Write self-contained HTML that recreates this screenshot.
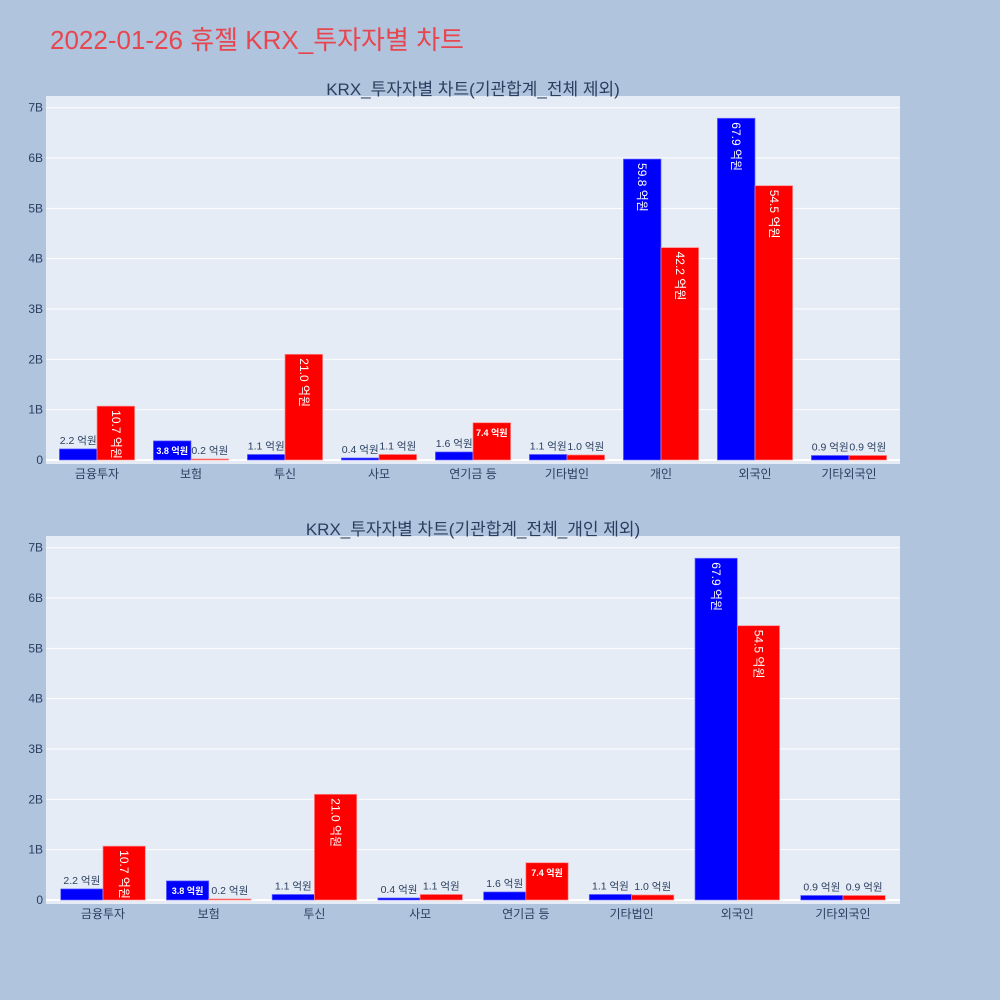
<!DOCTYPE html>
<html><head><meta charset="utf-8"><style>
html,body{margin:0;padding:0;background:#b0c4de;}
svg{display:block;font-family:"Liberation Sans","Noto Sans CJK KR",sans-serif;}
</style></head><body>
<svg id="c" width="1000" height="1000" xmlns="http://www.w3.org/2000/svg">
<rect width="1000" height="1000" fill="#b0c4de"/>
<text x="50" y="49" font-size="26" fill="#e8464f">2022-01-26 휴젤 KRX_투자자별 차트</text>
</svg>
<script>
const cats1 = ["금융투자","보험","투신","사모","연기금 등","기타법인","개인","외국인","기타외국인"];
const blue1 = [2.2,3.8,1.1,0.4,1.6,1.1,59.8,67.9,0.9];
const red1 = [10.7,0.2,21.0,1.1,7.4,1.0,42.2,54.5,0.9];
const cats2 = ["금융투자","보험","투신","사모","연기금 등","기타법인","외국인","기타외국인"];
const blue2 = [2.2,3.8,1.1,0.4,1.6,1.1,67.9,0.9];
const red2 = [10.7,0.2,21.0,1.1,7.4,1.0,54.5,0.9];
const yTicks = [0,1,2,3,4,5,6,7];
const yTickLabels = ["0","1B","2B","3B","4B","5B","6B","7B"];

const svg = document.getElementById('c');
const NS = "http://www.w3.org/2000/svg";
function mk(tag, attrs, parent){
  const e = document.createElementNS(NS, tag);
  for (const k in attrs) e.setAttribute(k, attrs[k]);
  (parent||svg).appendChild(e);
  return e;
}
function panel(opts, cats, blue, red, name){
  const g = mk('g', {});
  
  
  const {top, bottom, left, right, c0, cN, title, titleY, zeroY, sevenY} = opts;
  const bg = mk('rect', {x:left, y:top, width:right-left, height:bottom-top, fill:'#e5ecf6'}, g);
  
  
  const yScale = v => zeroY - (v/7)*(zeroY - sevenY); // v in B
  const step = (cN - c0)/(cats.length-1);
  const xScale = i => c0 + i*step;
  const bw = step*0.4;
  yTicks.forEach((t,i)=>{
    const y = yScale(t);
    const gl = mk('line', {x1:left, x2:right, y1:y, y2:y, stroke:'#fff', 'stroke-width': t===0?2:1}, g);
    
    
    const tl = mk('text', {x:left-3, y:y+4, 'text-anchor':'end', 'font-size':12, fill:'#2a3f5f'}, g);
    
    
    tl.textContent = yTickLabels[i];
  });
  const tt = mk('text', {x:473, y:titleY, 'text-anchor':'middle', 'font-size':17, fill:'#2a3f5f'}, g);
  
  
  tt.textContent = title;
  cats.forEach((c,i)=>{
    const cx = xScale(i);
    const xl = mk('text', {x:cx, y:bottom+14, 'text-anchor':'middle', 'font-size':12, fill:'#2a3f5f'}, g);
    
    
    xl.textContent = c;
    [[blue[i], '#0000ff', cx-bw, 'bar-buy'], [red[i], '#ff0000', cx, 'bar-sell']].forEach(([v, col, x, nm])=>{
      const yv = yScale(v/10);
      const h = zeroY - yv;
      const r = mk('rect', {x:x, y:yv, width:bw, height:Math.max(h,0.5), fill:col, stroke: col==='#0000ff'?'#6a6aff':'#ff8a8a', 'stroke-width':0.7}, g);
      
      
      const label = v.toFixed(1) + ' 억원';
      const mx = x + bw/2;
      let t;
      if (v >= 10){
        t = mk('text', {x:0, y:0, 'font-size':12, fill:'#fff', 'text-anchor':'start', transform:`translate(${mx-4},${yv+4}) rotate(90)`}, g);
      } else if (v >= 3){
        t = mk('text', {x:mx, y:yv+ Math.min(h/2+4, 13), 'font-size':9, 'font-weight':'bold', fill:'#fff', 'text-anchor':'middle'}, g);
      } else {
        t = mk('text', {x:mx, y:yv-5, 'font-size':10.5, fill:'#2a3f5f', 'text-anchor':'middle'}, g);
      }
      
      
      t.textContent = label;
    });
  });
}
panel({top:96, bottom:464, left:46, right:900, c0:97, cN:849, title:'KRX_투자자별 차트(기관합계_전체 제외)', titleY:95, zeroY:460, sevenY:107.7}, cats1, blue1, red1, 'chart-top');
panel({top:536, bottom:904, left:46, right:900, c0:103, cN:843, title:'KRX_투자자별 차트(기관합계_전체_개인 제외)', titleY:535, zeroY:900, sevenY:547.7}, cats2, blue2, red2, 'chart-bottom');
</script>
</body></html>
